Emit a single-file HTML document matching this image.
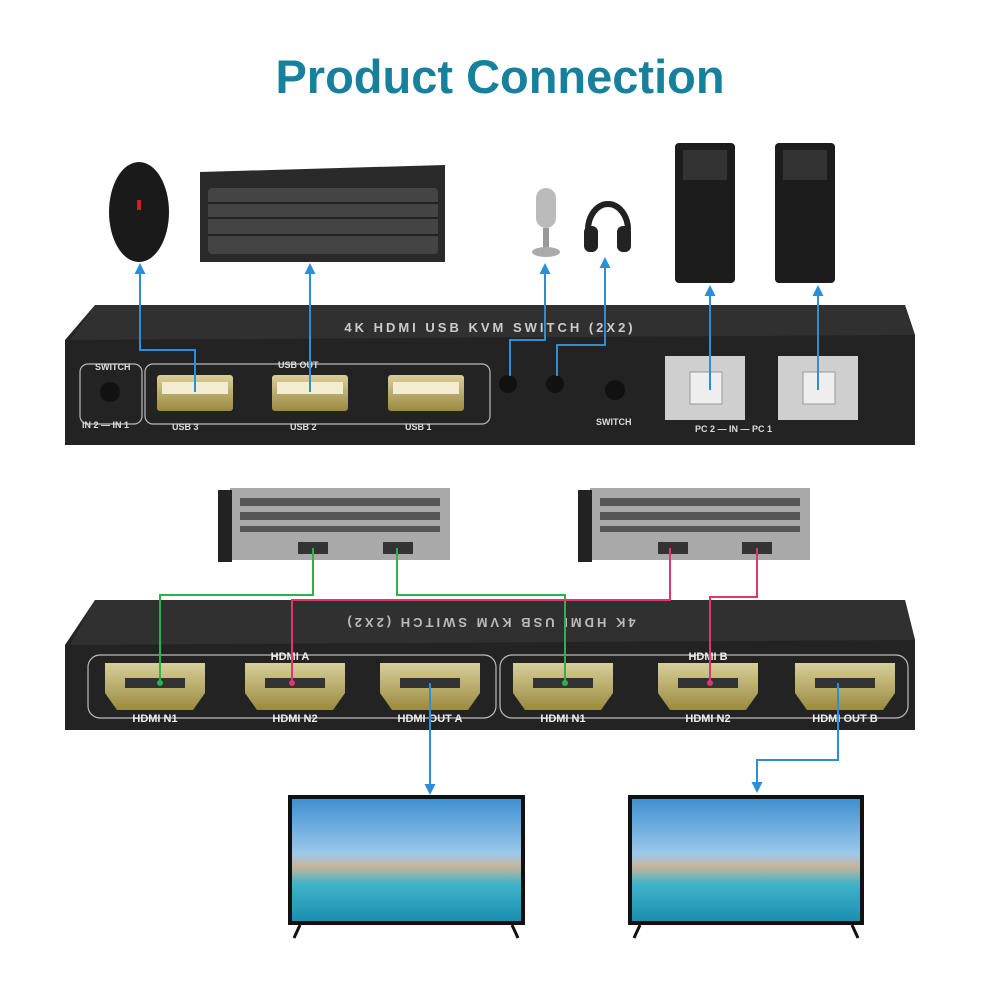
<!DOCTYPE html>
<html><head><meta charset="utf-8"><style>
html,body{margin:0;padding:0;background:#fff;}
svg{display:block;font-family:"Liberation Sans",sans-serif;}
</style></head><body>
<svg width="1000" height="1000" viewBox="0 0 1000 1000" xmlns="http://www.w3.org/2000/svg">
<defs>
<marker id="ab" markerUnits="userSpaceOnUse" markerWidth="11" markerHeight="11" refX="6" refY="5.5" orient="auto"><path d="M0,0 L11,5.5 L0,11 z" fill="#2a8fd6"/></marker>
<linearGradient id="sky" x1="0" y1="0" x2="0" y2="1"><stop offset="0" stop-color="#3f8fd0"/><stop offset="0.45" stop-color="#9cc9ea"/><stop offset="0.55" stop-color="#c9b49a"/><stop offset="0.7" stop-color="#3fb3c8"/><stop offset="1" stop-color="#1c8fb0"/></linearGradient>
<linearGradient id="gold" x1="0" y1="0" x2="0" y2="1"><stop offset="0" stop-color="#d8cf9a"/><stop offset="1" stop-color="#9a8a40"/></linearGradient>
</defs>
<text x="500" y="93" text-anchor="middle" font-size="47" font-weight="bold" fill="#17809c">Product Connection</text>

<!-- mouse -->
<ellipse cx="139" cy="212" rx="30" ry="50" fill="#1a1a1a"/>
<rect x="137" y="200" width="4" height="10" fill="#c22"/>
<!-- keyboard -->
<path d="M200,172 L445,165 L445,262 L200,262 z" fill="#2a2a2a"/>
<rect x="208" y="188" width="230" height="66" rx="4" fill="#444"/>
<g stroke="#222" stroke-width="2">
<line x1="208" y1="203" x2="438" y2="203"/><line x1="208" y1="218" x2="438" y2="218"/><line x1="208" y1="235" x2="438" y2="235"/>
</g>
<!-- mic -->
<rect x="536" y="188" width="20" height="40" rx="10" fill="#bbb"/>
<rect x="543" y="228" width="6" height="20" fill="#999"/>
<ellipse cx="546" cy="252" rx="14" ry="5" fill="#aaa"/>
<!-- headphones -->
<path d="M588,230 A20,26 0 0 1 628,230" fill="none" stroke="#222" stroke-width="6"/>
<rect x="584" y="226" width="14" height="26" rx="6" fill="#222"/>
<rect x="617" y="226" width="14" height="26" rx="6" fill="#222"/>
<!-- PCs -->
<rect x="675" y="143" width="60" height="140" rx="4" fill="#1c1c1c"/>
<rect x="775" y="143" width="60" height="140" rx="4" fill="#1c1c1c"/>
<rect x="683" y="150" width="44" height="30" fill="#333"/><rect x="783" y="150" width="44" height="30" fill="#333"/>

<!-- top KVM -->
<path d="M95,305 L905,305 L915,335 L915,445 L65,445 L65,340 z" fill="#232323"/>
<path d="M95,305 L905,305 L915,335 L70,340 z" fill="#303030"/>
<text x="490" y="332" text-anchor="middle" font-size="13" font-weight="bold" fill="#ccc" letter-spacing="3">4K HDMI USB KVM SWITCH (2X2)</text>
<g fill="none" stroke="#bbb" stroke-width="1.2">
<rect x="80" y="364" width="62" height="60" rx="8"/>
<rect x="145" y="364" width="345" height="60" rx="8"/>
</g>
<circle cx="110" cy="392" r="10" fill="#111"/>
<g font-size="9" fill="#ddd" font-weight="bold">
<text x="95" y="370" fill="#ddd">SWITCH</text>
<text x="82" y="428">IN 2 — IN 1</text>
<text x="172" y="430">USB 3</text><text x="290" y="430">USB 2</text><text x="405" y="430">USB 1</text>
<text x="278" y="368">USB OUT</text>
<text x="596" y="425">SWITCH</text>
<text x="695" y="432">PC 2 — IN — PC 1</text>
</g>
<g fill="url(#gold)"><rect x="157" y="375" width="76" height="36" rx="3"/><rect x="272" y="375" width="76" height="36" rx="3"/><rect x="388" y="375" width="76" height="36" rx="3"/></g>
<g fill="#f3ecd0"><rect x="162" y="382" width="66" height="12"/><rect x="277" y="382" width="66" height="12"/><rect x="393" y="382" width="66" height="12"/></g>
<circle cx="508" cy="384" r="9" fill="#111"/><circle cx="555" cy="384" r="9" fill="#111"/><circle cx="615" cy="390" r="10" fill="#111"/>
<rect x="665" y="356" width="80" height="64" fill="#cfcfcf"/><rect x="778" y="356" width="80" height="64" fill="#cfcfcf"/>
<rect x="690" y="372" width="32" height="32" fill="#eee" stroke="#999"/><rect x="803" y="372" width="32" height="32" fill="#eee" stroke="#999"/>

<!-- top blue connectors -->
<g stroke="#2a8fd6" stroke-width="2" fill="none" marker-end="url(#ab)">
<path d="M195,392 L195,350 L140,350 L140,268"/>
<path d="M310,392 L310,268"/>
<path d="M510,376 L510,340 L545,340 L545,268"/>
<path d="M557,376 L557,345 L605,345 L605,262"/>
<path d="M710,390 L710,290"/>
<path d="M818,390 L818,290"/>
</g>

<!-- GPUs -->
<g fill="#a9a9a9"><path d="M230,488 L450,488 L450,560 L230,560 z"/><path d="M590,488 L810,488 L810,560 L590,560 z"/></g>
<rect x="218" y="490" width="14" height="72" fill="#222"/><rect x="578" y="490" width="14" height="72" fill="#222"/>
<g fill="#555"><rect x="240" y="498" width="200" height="8"/><rect x="240" y="512" width="200" height="8"/><rect x="240" y="526" width="200" height="6"/>
<rect x="600" y="498" width="200" height="8"/><rect x="600" y="512" width="200" height="8"/><rect x="600" y="526" width="200" height="6"/></g>
<g fill="#333"><rect x="298" y="542" width="30" height="12"/><rect x="383" y="542" width="30" height="12"/><rect x="658" y="542" width="30" height="12"/><rect x="742" y="542" width="30" height="12"/></g>

<!-- bottom KVM -->
<path d="M95,600 L905,600 L915,640 L915,730 L65,730 L65,645 z" fill="#232323"/>
<path d="M95,600 L905,600 L915,640 L70,645 z" fill="#303030"/>
<text x="490" y="628" text-anchor="middle" font-size="13" font-weight="bold" fill="#bbb" letter-spacing="3" transform="rotate(180 490 623)">4K HDMI USB KVM SWITCH (2X2)</text>
<g fill="none" stroke="#bbb" stroke-width="1.2"><rect x="88" y="655" width="408" height="63" rx="12"/><rect x="500" y="655" width="408" height="63" rx="12"/></g>
<g fill="url(#gold)">
<path d="M105,663 h100 v30 l-12,17 h-76 l-12,-17 z"/><path d="M245,663 h100 v30 l-12,17 h-76 l-12,-17 z"/><path d="M380,663 h100 v30 l-12,17 h-76 l-12,-17 z"/>
<path d="M513,663 h100 v30 l-12,17 h-76 l-12,-17 z"/><path d="M658,663 h100 v30 l-12,17 h-76 l-12,-17 z"/><path d="M795,663 h100 v30 l-12,17 h-76 l-12,-17 z"/>
</g>
<g fill="#333"><rect x="125" y="678" width="60" height="10"/><rect x="265" y="678" width="60" height="10"/><rect x="400" y="678" width="60" height="10"/><rect x="533" y="678" width="60" height="10"/><rect x="678" y="678" width="60" height="10"/><rect x="815" y="678" width="60" height="10"/></g>
<g font-size="11" fill="#eee" font-weight="bold" text-anchor="middle">
<text x="155" y="722">HDMI N1</text><text x="295" y="722">HDMI N2</text><text x="430" y="722">HDMI OUT A</text>
<text x="563" y="722">HDMI N1</text><text x="708" y="722">HDMI N2</text><text x="845" y="722">HDMI OUT B</text>
<text x="290" y="660">HDMI A</text><text x="708" y="660">HDMI B</text>
</g>

<!-- green/pink -->
<g stroke="#2bb24c" stroke-width="2" fill="none">
<path d="M313,548 L313,595 L160,595 L160,683"/>
<path d="M397,548 L397,595 L565,595 L565,683"/>
</g>
<g stroke="#e0356e" stroke-width="2" fill="none">
<path d="M670,548 L670,600 L292,600 L292,683"/>
<path d="M757,548 L757,597 L710,597 L710,683"/>
</g>
<g fill="#2bb24c"><circle cx="160" cy="683" r="3"/><circle cx="565" cy="683" r="3"/></g>
<g fill="#e0356e"><circle cx="292" cy="683" r="3"/><circle cx="710" cy="683" r="3"/></g>

<g stroke="#2a8fd6" stroke-width="2" fill="none" marker-end="url(#ab)">
<path d="M430,683 L430,790"/>
<path d="M838,683 L838,760 L757,760 L757,788"/>
</g>

<!-- TVs -->
<rect x="288" y="795" width="237" height="130" fill="#111"/><rect x="292" y="799" width="229" height="122" fill="url(#sky)"/>
<rect x="628" y="795" width="236" height="130" fill="#111"/><rect x="632" y="799" width="228" height="122" fill="url(#sky)"/>
<g stroke="#111" stroke-width="3"><line x1="300" y1="925" x2="294" y2="938"/><line x1="512" y1="925" x2="518" y2="938"/><line x1="640" y1="925" x2="634" y2="938"/><line x1="852" y1="925" x2="858" y2="938"/></g>
</svg>
</body></html>
